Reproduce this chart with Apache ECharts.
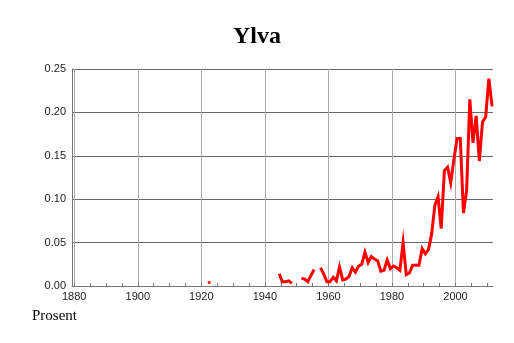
<!DOCTYPE html>
<html>
<head>
<meta charset="utf-8">
<script src="https://cdn.jsdelivr.net/npm/echarts@6/dist/echarts.min.js"></script>
<style>html,body{margin:0;padding:0;background:#fff;}#c{width:514px;height:343px;}</style>
</head>
<body>
<div id="c"></div>
<script>
const titleText = "Ylva";
const yAxisName = "Prosent";
const years = [1922,
  1944,1945,1946,1947,1948,
  1951,1952,1953,1954,1955,
  1957,1958,1959,1960,1961,1962,1963,1964,1965,1966,1967,1968,1969,1970,
  1971,1972,1973,1974,1975,1976,1977,1978,1979,1980,1981,1982,1983,1984,1985,
  1986,1987,1988,1989,1990,1991,1992,1993,1994,1995,1996,1997,1998,1999,2000,
  2001,2002,2003,2004,2005,2006,2007,2008,2009,2010,2011];
const values = [0.004,
  0.014,0.005,0.005,0.006,0.003,
  0.009,0.008,0.005,0.012,0.019,
  0.021,0.014,0.005,0.005,0.010,0.006,0.022,0.007,0.008,0.011,0.021,0.016,0.023,0.025,
  0.039,0.027,0.034,0.031,0.029,0.017,0.018,0.030,0.020,0.023,0.021,0.018,0.050,0.013,0.015,
  0.024,0.024,0.024,0.043,0.037,0.042,0.060,0.093,0.103,0.066,0.133,0.137,0.119,0.146,0.170,
  0.170,0.084,0.110,0.215,0.165,0.196,0.144,0.189,0.195,0.239,0.207];
const xLabelTicks = [1880,1900,1920,1940,1960,1980,2000];
const xMinorTicks = [1880,1885,1890,1895,1900,1905,1910,1915,1920,1925,1930,1935,1940,1945,1950,1955,1960,1965,1970,1975,1980,1985,1990,1995,2000,2005,2010];
const yTicks = [0, 0.05, 0.10, 0.15, 0.20, 0.25];

// build line data with breaks at missing years (annual values plotted at mid-year)
const lineData = [];
const isolated = [];
for (let i = 0; i < years.length; i++) {
  if (i > 0 && years[i] - years[i-1] > 1) lineData.push([years[i-1] + 1.5, null]);
  lineData.push([years[i] + 0.5, values[i]]);
  const prevOk = i > 0 && years[i] - years[i-1] === 1;
  const nextOk = i < years.length - 1 && years[i+1] - years[i] === 1;
  if (!prevOk && !nextOk) isolated.push([years[i] + 0.5, values[i]]);
}

const chart = echarts.init(document.getElementById('c'), null, {renderer: 'canvas'});
const xMin = 1879.3, xMax = 2011.8;
chart.setOption({
  animation: false,
  backgroundColor: '#fff',
  title: {
    text: titleText, left: 'center', top: 20,
    textStyle: {fontFamily: 'Liberation Serif', fontWeight: 'bold', fontSize: 24, color: '#000'}
  },
  graphic: [{
    type: 'text', left: 32, top: 309,
    style: {text: yAxisName, font: '15px "Liberation Serif"', fill: '#000'}
  }],
  grid: {left: 72, right: 21, top: 69, bottom: 57, containLabel: false},
  xAxis: [{
    type: 'value', min: xMin, max: xMax,
    axisLine: {show: true, lineStyle: {color: '#777', width: 1}},
    axisTick: {show: true, inside: true, length: 3, customValues: xMinorTicks, lineStyle: {color: '#777'}},
    axisLabel: {customValues: xLabelTicks, formatter: v => String(Math.round(v)), fontFamily: 'Liberation Sans', fontSize: 11, color: '#222', margin: 5},
    splitLine: {show: false}
  }, {
    type: 'value', min: xMin, max: xMax, position: 'bottom',
    axisLine: {show: false},
    axisTick: {show: false, customValues: xLabelTicks},
    axisLabel: {show: false, customValues: xLabelTicks},
    splitLine: {show: true, lineStyle: {color: '#aaa', width: 1}}
  }],
  yAxis: {
    type: 'value', min: 0, max: 0.25, interval: 0.05,
    axisLine: {show: true, lineStyle: {color: '#777'}},
    axisTick: {show: false},
    axisLabel: {formatter: v => v.toFixed(2), fontFamily: 'Liberation Sans', fontSize: 11, color: '#222', margin: 6},
    splitLine: {show: true, lineStyle: {color: '#666', width: 1}}
  },
  series: [{
    type: 'line', data: lineData, xAxisIndex: 0,
    showSymbol: false, connectNulls: false,
    lineStyle: {color: '#ff0000', width: 3, join: 'miter'},
    itemStyle: {color: '#ff0000'}
  }, {
    type: 'scatter', data: isolated, xAxisIndex: 0,
    symbol: 'rect', symbolSize: 3,
    itemStyle: {color: '#ff0000'}
  }]
});
</script>
</body>
</html>
